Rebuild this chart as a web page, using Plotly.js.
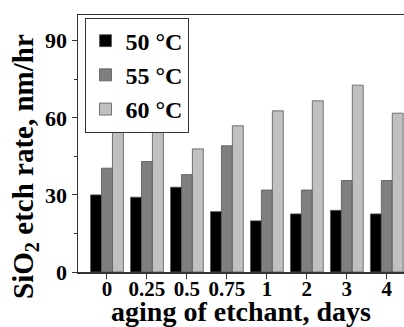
<!DOCTYPE html>
<html><head><meta charset="utf-8">
<script src="https://cdn.plot.ly/plotly-3.0.1.min.js"></script>
<style>body{margin:0;background:#fff}#c{width:404px;height:327px}</style>
</head><body><div id="c"></div>
<script>
const categories = ['0','0.25','0.5','0.75','1','2','3','4'];
const seriesNames = ['50 °C','55 °C','60 °C'];
const rate50 = [30, 29.1, 33, 23.5, 19.9, 22.6, 24, 22.6];
const rate55 = [40.4, 43, 37.9, 49.1, 31.9, 31.9, 35.6, 35.6];
const rate60 = [60, 60, 47.9, 56.9, 62.7, 66.6, 72.7, 61.8];
const colors = ['#000000','#7f7f7f','#c0c0c0'];
const F = 'Liberation Serif, Times New Roman, serif';
const traces = [rate50, rate55, rate60].map((v,i)=>({
  type:'bar', x:categories, y:v, name:seriesNames[i],
  marker:{color:colors[i], line:{color:'#555', width:0.8}}
}));
const layout = {
  width:404, height:327,
  margin:{l:78, r:0, t:15, b:55},
  paper_bgcolor:'#fff', plot_bgcolor:'#fff',
  barmode:'group', bargap:0.18, bargroupgap:0,
  font:{family:F, color:'#000'},
  showlegend:true,
  legend:{x:0.02, y:0.99, xanchor:'left', yanchor:'top',
    bordercolor:'#333', borderwidth:1, bgcolor:'#fff',
    font:{family:F, size:24, weight:'bold'}, tracegroupgap:0, itemwidth:30},
  xaxis:{type:'category', range:[-0.725, 7.43],
    showline:true, linecolor:'#333', linewidth:1.5, mirror:true,
    ticks:'outside', ticklen:5, tickcolor:'#333',
    tickfont:{family:F, size:21, weight:'bold'}, ticklabelstandoff:-8,
    title:{text:'aging of etchant, days', font:{family:F, size:28, weight:'bold'}, standoff:1},
    showgrid:false},
  yaxis:{range:[0,100], tickvals:[0,30,60,90],
    showline:true, linecolor:'#333', linewidth:1.5, mirror:true,
    ticks:'outside', ticklen:5, tickcolor:'#333',
    minor:{tickvals:[15,45,75], ticks:'outside', ticklen:3, tickcolor:'#333'},
    tickfont:{family:F, size:22, weight:'bold'},
    showgrid:false, zeroline:false},
  annotations:[{text:'SiO<sub>2</sub> etch rate, nm/hr', textangle:-90,
    xref:'paper', yref:'paper', x:0, y:0.409, xanchor:'center', yanchor:'middle',
    xshift:-53, showarrow:false, font:{family:F, size:29, weight:'bold', color:'#000'}}]
};
Plotly.newPlot('c', traces, layout, {staticPlot:true, displayModeBar:false});
</script></body></html>
